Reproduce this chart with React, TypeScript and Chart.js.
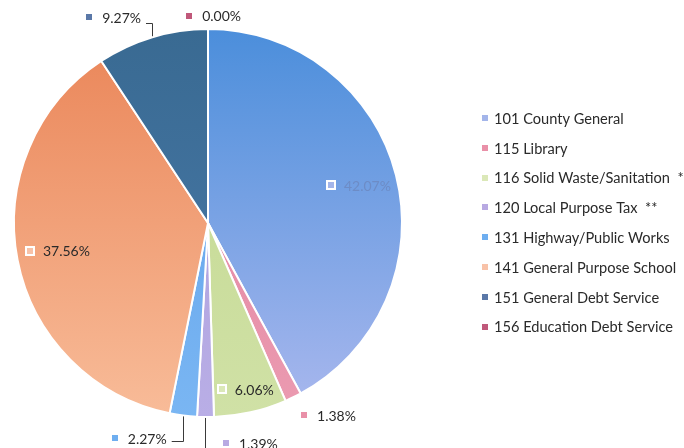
import React, { useEffect, useRef } from "react";
import { Chart, registerables } from "chart.js";

Chart.register(...registerables);

// ---- data ----
const categories = [
  "101 County General",
  "115 Library",
  "116 Solid Waste/Sanitation  *",
  "120 Local Purpose Tax  **",
  "131 Highway/Public Works",
  "141 General Purpose School",
  "151 General Debt Service",
  "156 Education Debt Service",
];
const shares = [42.07, 1.38, 6.06, 1.39, 2.27, 37.56, 9.27, 0.0];

// ---- styles ----
const topColors = ["#4b8edb", "#e07d9c", "#c2d88e", "#a99bd9", "#5d9fe9", "#ea8558", "#396a92", "#b04060"];
const bottomColors = ["#aab8ee", "#eb9bb1", "#d0e1a6", "#b9aee6", "#7ab6f3", "#f8bc99", "#4a7aaa", "#c86080"];
const legendColors = ["#a3b5ea", "#e990a8", "#dbe8b8", "#b8a9e2", "#6eaef0", "#f8c2a8", "#5a78a8", "#c0587a"];
const labelTextColors = ["#6d8cc6", "#2a2a2a", "#2a2a2a", "#2a2a2a", "#2a2a2a", "#2a2a2a", "#2a2a2a", "#2a2a2a"];
// label placement relative to arc: angle delta (deg) from slice mid, radius factor
const labelDA = [-2.9, -0.5, 7.9, -5.4, 16.1, 2.1, -13.3, -5.2];
const labelRF = [0.663, 1.107, 0.859, 1.138, 1.208, 0.929, 1.226, 1.072];
const leaderKinds = ["none", "none", "none", "down", "hook", "none", "hook", "none"];

const FONT = "Lato, 'Open Sans', sans-serif";

const labelPlugin = {
  id: "pieLabels",
  afterDraw(chart: any) {
    const ctx = chart.ctx;
    const meta = chart.getDatasetMeta(0);
    ctx.save();
    ctx.font = `14px ${FONT}`;
    ctx.textBaseline = "middle";
    meta.data.forEach((arc: any, i: number) => {
      const p = arc.getProps(["x", "y", "startAngle", "endAngle", "outerRadius"], true);
      const mid = (p.startAngle + p.endAngle) / 2;
      const a = mid + (labelDA[i] * Math.PI) / 180;
      const r = p.outerRadius * labelRF[i];
      const mx = p.x + Math.cos(a) * r;
      const my = p.y + Math.sin(a) * r;
      const text = shares[i].toFixed(2) + "%";
      const tx = mx + 13;
      const tw = ctx.measureText(text).width;
      // leader
      if (leaderKinds[i] !== "none") {
        const sx = p.x + Math.cos(mid) * (p.outerRadius + 1);
        const sy = p.y + Math.sin(mid) * (p.outerRadius + 1);
        ctx.strokeStyle = "#3a3a3a";
        ctx.lineWidth = 1;
        ctx.beginPath();
        ctx.moveTo(Math.round(sx) + 0.5, sy);
        if (leaderKinds[i] === "down") {
          ctx.lineTo(Math.round(sx) + 0.5, chart.height + 10);
        } else {
          const ey = Math.round(my + (my < p.y ? 6 : 3)) + 0.5;
          ctx.lineTo(Math.round(sx) + 0.5, ey);
          ctx.lineTo(tx + tw + 5, ey);
        }
        ctx.stroke();
      }
      // marker
      ctx.fillStyle = "#ffffff";
      ctx.fillRect(Math.round(mx) - 5, Math.round(my) - 5, 10, 10);
      ctx.fillStyle = legendColors[i];
      ctx.fillRect(Math.round(mx) - 3, Math.round(my) - 3, 6, 6);
      // text
      ctx.fillStyle = labelTextColors[i];
      ctx.textAlign = "left";
      ctx.fillText(text, tx, my + 1);
    });
    // legend
    ctx.font = `14.6px ${FONT}`;
    const lx = 485;
    const ly0 = 118;
    const step = 29.8;
    categories.forEach((c, i) => {
      const y = ly0 + i * step;
      ctx.fillStyle = legendColors[i];
      ctx.fillRect(lx - 3, Math.round(y) - 3, 6, 6);
      ctx.fillStyle = "#2a2a2a";
      ctx.fillText(c, lx + 9, y + 1);
    });
    ctx.restore();
  },
};

export default function App() {
  const ref = useRef<HTMLCanvasElement>(null);
  useEffect(() => {
    document.body.style.margin = "0";
    const canvas = ref.current!;
    const chart = new Chart(canvas, {
      type: "pie",
      data: {
        labels: categories,
        datasets: [
          {
            data: shares,
            backgroundColor: (c: any) => {
              const ca = c.chart.chartArea;
              const i = c.dataIndex;
              if (!ca) return topColors[i];
              const g = c.chart.ctx.createLinearGradient(0, ca.top, 0, ca.bottom);
              g.addColorStop(0, topColors[i]);
              g.addColorStop(1, bottomColors[i]);
              return g;
            },
            borderColor: "#ffffff",
            borderWidth: 2,
          },
        ],
      },
      options: {
        responsive: false,
        animation: false,
        layout: { padding: { left: 13, top: 28, right: 281, bottom: 30 } },
        plugins: {
          legend: { display: false },
          tooltip: { enabled: false },
        },
      },
      plugins: [labelPlugin],
    });
    return () => chart.destroy();
  }, []);
  return (
    <div style={{ width: 684, height: 448, background: "#ffffff" }}>
      <canvas ref={ref} width={684} height={448} />
    </div>
  );
}
